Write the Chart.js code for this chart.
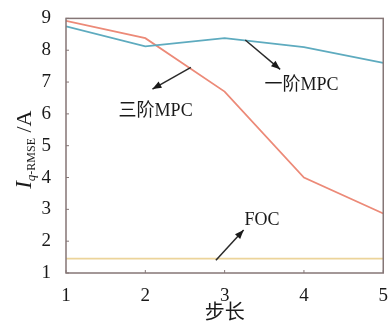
<!DOCTYPE html>
<html>
<head>
<meta charset="utf-8">
<script src="https://cdn.jsdelivr.net/npm/chart.js@4.4.1/dist/chart.umd.min.js"></script>
<style>
html,body{margin:0;padding:0;background:#fff;}
#wrap{width:392px;height:328px;position:relative;}
</style>
</head>
<body>
<div id="wrap"><canvas id="c" width="392" height="328"></canvas></div>
<script>
// ---- data ----
const steps = [1, 2, 3, 4, 5];
const mpc1 = [8.75, 8.12, 8.38, 8.1, 7.6];     // 一阶MPC
const mpc3 = [8.92, 8.38, 6.7, 4.0, 2.87];     // 三阶MPC
const foc = [1.45, 1.45, 1.45, 1.45, 1.45];    // FOC
const yTicks = [1, 2, 3, 4, 5, 6, 7, 8, 9];
const xTitle = '步长';
// annotations in data coordinates
const annLabels = ['三阶MPC', '一阶MPC', 'FOC'];
const annText = [[2.13, 6.08], [3.97, 6.9], [3.47, 2.66]];
const annArrow = [[2.575, 7.46, 2.09, 6.78], [3.26, 8.32, 3.7, 7.4], [2.89, 1.4, 3.24, 2.35]];

const pts = arr => steps.map((s, i) => ({x: s, y: arr[i]}));

const frameColor = '#857676';

const overlay = {
  id: 'overlay',
  afterDraw(chart) {
    const {ctx, chartArea: a, scales: {x, y}} = chart;
    ctx.save();
    ctx.strokeStyle = frameColor;
    ctx.lineWidth = 1.5;
    ctx.strokeRect(a.left, a.top, a.right - a.left, a.bottom - a.top);
    ctx.lineWidth = 1;
    steps.forEach(s => {
      const px = x.getPixelForValue(s);
      ctx.beginPath(); ctx.moveTo(px, a.bottom); ctx.lineTo(px, a.bottom - 3); ctx.stroke();
    });
    yTicks.forEach(v => {
      const py = y.getPixelForValue(v);
      ctx.beginPath(); ctx.moveTo(a.left, py); ctx.lineTo(a.left + 3, py); ctx.stroke();
    });
    ctx.fillStyle = '#1a1a1a';
    ctx.strokeStyle = '#2a2a2a';
    annLabels.forEach((t, i) => {
      const [ax1, ay1, ax2, ay2] = annArrow[i];
      const x1 = x.getPixelForValue(ax1), y1 = y.getPixelForValue(ay1);
      const x2 = x.getPixelForValue(ax2), y2 = y.getPixelForValue(ay2);
      ctx.lineWidth = 1.5;
      ctx.beginPath(); ctx.moveTo(x1, y1); ctx.lineTo(x2, y2); ctx.stroke();
      const ang = Math.atan2(y2 - y1, x2 - x1);
      const L = 9, W = 3.5;
      ctx.beginPath();
      ctx.moveTo(x2, y2);
      ctx.lineTo(x2 - L * Math.cos(ang) + W * Math.sin(ang), y2 - L * Math.sin(ang) - W * Math.cos(ang));
      ctx.lineTo(x2 - L * Math.cos(ang) - W * Math.sin(ang), y2 - L * Math.sin(ang) + W * Math.cos(ang));
      ctx.closePath(); ctx.fill();
      ctx.font = '18px "Liberation Serif", "Noto Sans CJK SC", serif';
      ctx.textAlign = 'center'; ctx.textBaseline = 'middle';
      ctx.fillText(t, x.getPixelForValue(annText[i][0]), y.getPixelForValue(annText[i][1]));
    });
    // y title
    ctx.save();
    ctx.translate(24, (a.top + a.bottom) / 2 + 4);
    ctx.rotate(-Math.PI / 2);
    ctx.textBaseline = 'alphabetic';
    ctx.textAlign = 'left';
    const parts = [
      {t: 'I', f: 'italic 23px "Liberation Serif", serif', dy: 0},
      {t: 'q', f: 'italic 13px "Liberation Serif", serif', dy: 4},
      {t: '-RMSE', f: '12px "Liberation Serif", serif', dy: 4},
      {t: ' /A', f: '22px "Liberation Serif", serif', dy: 0}
    ];
    let w = 0;
    parts.forEach(p => { ctx.font = p.f; w += ctx.measureText(p.t).width; });
    let cx = -w / 2;
    parts.forEach(p => {
      ctx.font = p.f;
      ctx.fillText(p.t, cx, p.dy + 7);
      cx += ctx.measureText(p.t).width;
    });
    ctx.restore();
    // x title
    ctx.font = '20px "Noto Sans CJK SC", sans-serif';
    ctx.textAlign = 'center'; ctx.textBaseline = 'middle';
    ctx.fillStyle = '#1a1a1a';
    ctx.fillText(xTitle, (a.left + a.right) / 2, 311);
    ctx.restore();
  }
};

new Chart(document.getElementById('c'), {
  type: 'line',
  data: {
    datasets: [
      {label: '一阶MPC', data: pts(mpc1), borderColor: '#5eabbf', borderWidth: 1.8, pointRadius: 0, tension: 0},
      {label: '三阶MPC', data: pts(mpc3), borderColor: '#ec8a78', borderWidth: 1.8, pointRadius: 0, tension: 0},
      {label: 'FOC', data: pts(foc), borderColor: '#ecd49a', borderWidth: 1.8, pointRadius: 0, tension: 0}
    ]
  },
  options: {
    responsive: false,
    animation: false,
    layout: {padding: {top: 13, right: 7, left: 0, bottom: 0}},
    plugins: {legend: {display: false}, tooltip: {enabled: false}},
    scales: {
      x: {
        type: 'linear', min: 1, max: 5,
        grid: {display: false}, border: {display: false},
        afterBuildTicks: s => { s.ticks = steps.map(v => ({value: v})); },
        afterFit: s => { s.height = 55; },
        ticks: {color: '#1a1a1a', padding: 4, font: {family: '"Liberation Serif", serif', size: 19}}
      },
      y: {
        min: 1, max: 9,
        grid: {display: false}, border: {display: false},
        afterBuildTicks: s => { s.ticks = yTicks.map(v => ({value: v})); },
        afterFit: s => { s.width = 66; },
        ticks: {color: '#1a1a1a', padding: 7, font: {family: '"Liberation Serif", serif', size: 19}}
      }
    }
  },
  plugins: [overlay]
});
</script>
</body>
</html>
